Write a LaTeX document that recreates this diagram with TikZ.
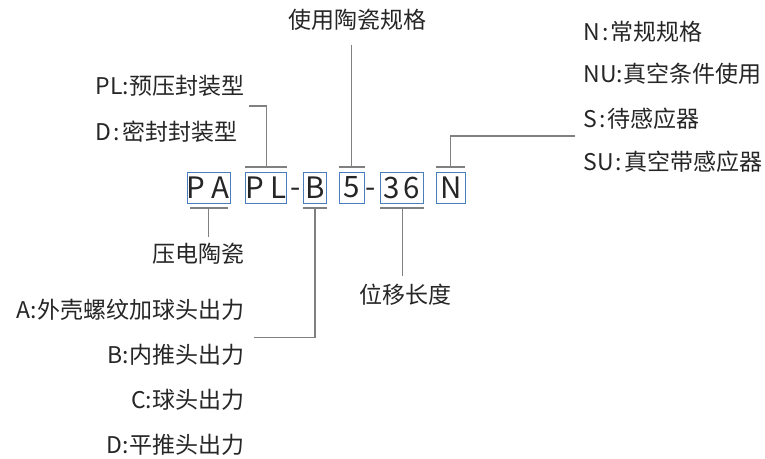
\documentclass[tikz,border=0pt]{standalone}
\usepackage{fontspec}
\setmainfont{Noto Sans CJK SC}
\definecolor{txt}{HTML}{262626}
\definecolor{ln}{HTML}{808080}
\definecolor{bx}{HTML}{4A7EBB}
\begin{document}
\begin{tikzpicture}[x=1pt,y=-1pt,
  lbl/.style={inner sep=0pt,text=txt,font=\fontsize{23}{27}\selectfont},
  big/.style={inner sep=0pt,text=txt,font=\fontsize{29.5}{32}\selectfont},
  codebox/.style={draw=bx,line width=0.9pt,inner sep=0pt,minimum height=30.8pt},
  conn/.style={draw=ln,line width=1.3pt}]
\useasboundingbox (0,0) rectangle (765,458);
% boxes
\node[codebox,minimum width=42.7pt] (bPA) at (208.7,188.1) {};
\node[codebox,minimum width=41pt] (bPL) at (266.2,188.1) {};
\node[codebox,minimum width=23.4pt] (bB) at (315,188.1) {};
\node[codebox,minimum width=25pt] (b5) at (351.8,188.1) {};
\node[codebox,minimum width=43pt] (b36) at (402.3,188.1) {};
\node[codebox,minimum width=29pt] (bN) at (450.5,188.1) {};
% letters
\node[big] (lP1) at (195.8,187.5) {P};
\node[big] (lA) at (220.5,187.5) {A};
\node[big] (lP2) at (255,187.5) {P};
\node[big] (lL) at (279,187.5) {L};
\node[big] (dash1) at (296,192.5) {-};
\node[big] (lB) at (315,187.5) {B};
\node[big] (l5) at (352,187.5) {5};
\node[big] (dash2) at (371,192.5) {-};
\node[big] (l3) at (391.7,187.5) {3};
\node[big] (l6) at (412,187.5) {6};
\node[big] (lN) at (451,187.5) {N};
% labels
\node[lbl] (tUse) at (357.5,20) {使用陶瓷规格};
\node[lbl,anchor=west] (tPL) at (95.7,86) {PL:预压封装型};
\node[lbl,anchor=west] (tD1) at (95.7,131.7) {D\hspace{2pt}:\hspace{2pt}密封封装型};
\node[lbl,anchor=west] (tN) at (583.3,31.7) {N\hspace{2pt}:\hspace{2pt}常规规格};
\node[lbl,anchor=west] (tNU) at (583.3,73.3) {NU:真空条件使用};
\node[lbl,anchor=west] (tS) at (583.3,119) {S\hspace{2pt}:\hspace{2pt}待感应器};
\node[lbl,anchor=west] (tSU) at (583.3,161.7) {SU\hspace{2pt}:\hspace{2pt}真空带感应器};
\node[lbl,anchor=east] (tYD) at (244.3,253.3) {压电陶瓷};
\node[lbl] (tWY) at (405.5,295) {位移长度};
\node[lbl,anchor=east] (tA) at (244.3,310) {A:外壳螺纹加球头出力};
\node[lbl,anchor=east] (tB) at (244.3,355) {B:内推头出力};
\node[lbl,anchor=east] (tC) at (244.3,400) {C:球头出力};
\node[lbl,anchor=east] (tD2) at (244.3,445) {D:平推头出力};
% bars
\coordinate (tbPL) at ([yshift=5.3pt]bPL.north);
\coordinate (tb5) at ([yshift=5.3pt]b5.north);
\coordinate (tbN) at ([yshift=5.3pt]bN.north);
\coordinate (bbPA) at ([yshift=-4pt]bPA.south);
\coordinate (bbB) at ([yshift=-4pt]bB.south);
\coordinate (bb36) at ([yshift=-4pt]b36.south);
\draw[conn] ([yshift=5.3pt]bPL.north west) -- ([yshift=5.3pt]bPL.north east);
\draw[conn] ([yshift=5.3pt]b5.north west) -- ([yshift=5.3pt]b5.north east);
\draw[conn] ([yshift=5.3pt]bN.north west) -- ([yshift=5.3pt]bN.north east);
\draw[conn] ([xshift=3pt,yshift=-4pt]bPA.south west) -- ([xshift=-3pt,yshift=-4pt]bPA.south east);
\draw[conn] ([yshift=-4pt]bB.south west) -- ([yshift=-4pt]bB.south east);
\draw[conn] ([yshift=-4pt]b36.south west) -- ([yshift=-4pt]b36.south east);
% connector ends
\coordinate (ePL) at (249.3,106);
\coordinate (e5) at (352,45);
\coordinate (eN) at (575,136);
\coordinate (ePA) at (208.7,236.7);
\coordinate (eB) at (254,337.3);
\coordinate (e36) at (402.3,276);
\draw[conn] (tbPL) |- (ePL);
\draw[conn] (tb5) -- (tb5 |- e5);
\draw[conn] (tbN) |- (eN);
\draw[conn] (bbPA) -- (ePA);
\draw[conn] (bbB) |- (eB);
\draw[conn] (bb36) -- (e36);
\end{tikzpicture}
\end{document}
